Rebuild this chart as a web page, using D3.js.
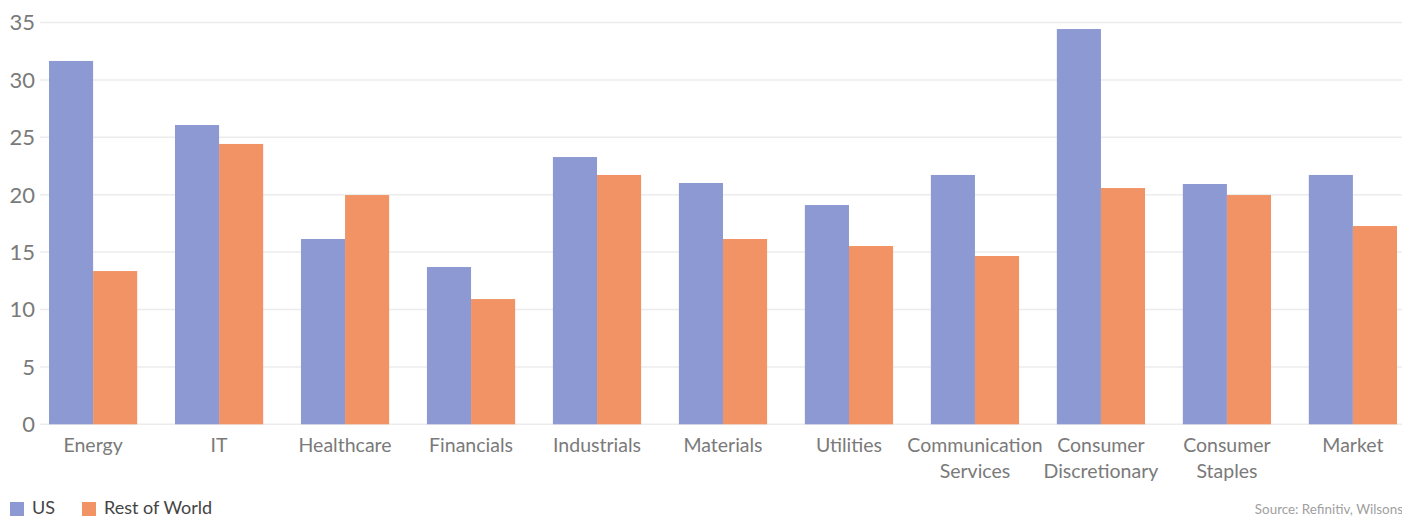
<!DOCTYPE html>
<html lang="en">
<head>
    <meta charset="UTF-8">
    <title>US vs Rest of World by sector</title>
    <script src="https://d3js.org/d3.v7.min.js"></script>
    <style>
        body {
            margin: 0;
            background: #fff;
            font-family: Lato, "Open Sans", sans-serif;
        }
        .grid line {
            stroke: #ececec;
            stroke-width: 1.5;
        }
        .y-label {
            fill: #7a7a7a;
            font-size: 22px;
        }
        .x-label {
            fill: #7a7a7a;
            font-size: 19.5px;
        }
        .legend text {
            fill: #444;
            font-size: 18px;
        }
        .source {
            fill: #a0a0a0;
            font-size: 13.4px;
        }
    </style>
</head>
<body>
    <svg width="1402" height="517"></svg>
    <script>
        // categories (multi-line labels split on "\n")
        const categories = [
            "Energy", "IT", "Healthcare", "Financials", "Industrials", "Materials",
            "Utilities", "Communication\nServices", "Consumer\nDiscretionary",
            "Consumer\nStaples", "Market"
        ];
        const seriesNames = ["US", "Rest of World"];
        const usValues  = [31.65, 26.07, 16.14, 13.7, 23.28, 21.02, 19.1, 21.72, 34.43, 20.93, 21.72];
        const rowValues = [13.35, 24.42, 19.97, 10.91, 21.72, 16.14, 15.53, 14.66, 20.58, 19.97, 17.27];
        const yTicks = [0, 5, 10, 15, 20, 25, 30, 35];
        const colors = ["#8c99d3", "#f19365"];

        const svg = d3.select("svg");

        // plot area
        const gridLeft = 40, gridRight = 1402;
        const x = d3.scaleBand()
            .domain(categories)
            .range([49, 1397])
            .paddingInner(0.3)
            .paddingOuter(0);
        const xSub = d3.scaleBand()
            .domain(seriesNames)
            .range([0, x.bandwidth()]);
        const y = d3.scaleLinear()
            .domain([0, 35])
            .range([424.3, 22.5]);

        // grid lines
        svg.append("g")
            .attr("class", "grid")
            .selectAll("line")
            .data(yTicks)
            .join("line")
            .attr("x1", gridLeft)
            .attr("x2", gridRight)
            .attr("y1", d => y(d))
            .attr("y2", d => y(d));

        // y tick labels
        svg.append("g")
            .selectAll("text")
            .data(yTicks)
            .join("text")
            .attr("class", "y-label")
            .attr("x", 35)
            .attr("y", d => y(d))
            .attr("dy", "0.36em")
            .attr("text-anchor", "end")
            .text(d => d);

        // bars
        const rows = categories.map((c, i) => ({ cat: c, values: [usValues[i], rowValues[i]] }));
        const groups = svg.append("g")
            .selectAll("g")
            .data(rows)
            .join("g")
            .attr("transform", d => `translate(${x(d.cat)},0)`);

        groups.selectAll("rect")
            .data(d => d.values.map((v, j) => ({ name: seriesNames[j], value: v, j })))
            .join("rect")
            .attr("x", d => xSub(d.name))
            .attr("y", d => y(d.value))
            .attr("width", xSub.bandwidth())
            .attr("height", d => y(0) - y(d.value))
            .attr("fill", d => colors[d.j]);

        // x labels
        const xl = svg.append("g")
            .selectAll("text")
            .data(categories)
            .join("text")
            .attr("class", "x-label")
            .attr("text-anchor", "middle")
            .attr("x", d => x(d) + x.bandwidth() / 2)
            .attr("y", 452);
        xl.selectAll("tspan")
            .data(d => d.split("\n"))
            .join("tspan")
            .attr("x", function () { return d3.select(this.parentNode).attr("x"); })
            .attr("dy", (d, i) => i === 0 ? 0 : 26)
            .text(d => d);

        // legend
        const legend = svg.append("g").attr("class", "legend");
        const legendX = [10, 82];
        seriesNames.forEach((name, i) => {
            legend.append("rect")
                .attr("x", legendX[i])
                .attr("y", 502)
                .attr("width", 14)
                .attr("height", 14)
                .attr("fill", colors[i]);
            legend.append("text")
                .attr("x", legendX[i] + 22)
                .attr("y", 514)
                .text(name);
        });

        // source
        svg.append("text")
            .attr("class", "source")
            .attr("x", 1403)
            .attr("y", 514)
            .attr("text-anchor", "end")
            .text("Source: Refinitiv, Wilsons");
    </script>
</body>
</html>
